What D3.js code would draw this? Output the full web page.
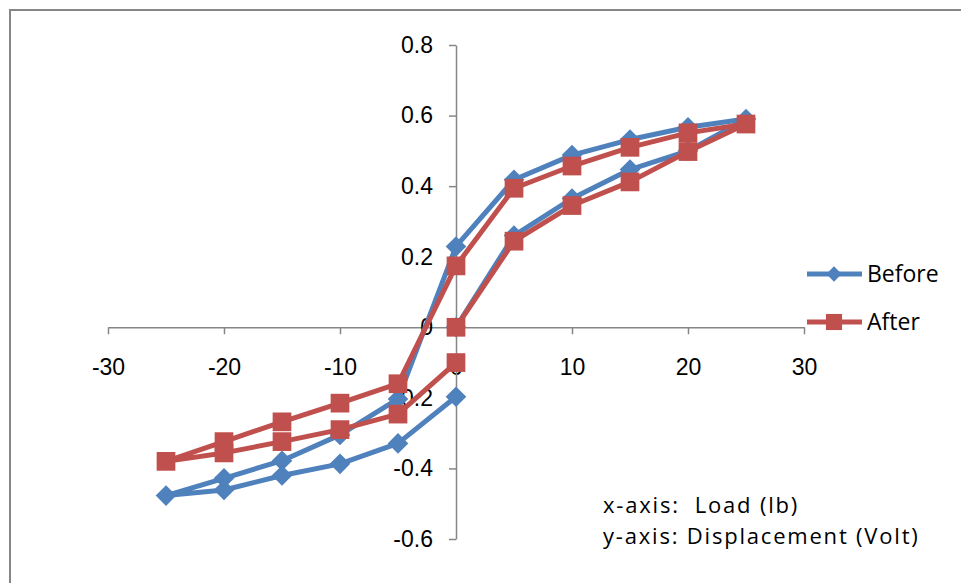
<!DOCTYPE html>
<meta charset="utf-8">
<style>
html, body {
  margin: 0;
  background: #fff;
}

.chart {
  display: block;
  font-family: Lato, "Open Sans", sans-serif;
}

.chart .axis path,
.chart .axis line {
  fill: none;
  stroke: #868686;
  stroke-width: 1.5;
}

.chart .axis text {
  fill: #000;
  font-size: 23px;
}

.chart .series .line {
  fill: none;
  stroke-width: 5;
  stroke-linejoin: round;
}

.chart .label {
  font-family: "Open Sans", sans-serif;
  font-size: 23px;
  fill: #000;
  white-space: pre;
}

.chart .note {
  font-size: 22px;
  letter-spacing: 1.8px;
}
</style>
<body>
<svg class="chart js-chart" width="961" height="583"></svg>

<script src="https://d3js.org/d3.v7.min.js"></script>
<script type="text/javascript">
"use strict";

// load (lb), in the order the points were recorded
var beforeLoad = [0, 5, 10, 15, 20, 25, 20, 15, 10, 5, 0, -5, -10, -15, -20, -25, -20, -15, -10, -5, 0];
var beforeDisp = [0, 0.26, 0.365, 0.447, 0.5, 0.59, 0.567, 0.532, 0.488, 0.418, 0.229,
                  -0.203, -0.305, -0.378, -0.428, -0.477, -0.461, -0.42, -0.387, -0.329, -0.197];

var afterLoad = [0, 5, 10, 15, 20, 25, 20, 15, 10, 5, 0, -5, -10, -15, -20, -25, -20, -15, -10, -5, 0];
var afterDisp = [0, 0.244, 0.345, 0.412, 0.498, 0.576, 0.551, 0.51, 0.457, 0.394, 0.174,
                 -0.16, -0.215, -0.268, -0.324, -0.38, -0.356, -0.324, -0.29, -0.246, -0.1];

var xTicks = [-30, -20, -10, 0, 10, 20, 30];
var yTicks = [-0.6, -0.4, -0.2, 0, 0.2, 0.4, 0.6, 0.8];

var seriesNames = ["Before", "After"];
var notes = ["x-axis:  Load (lb)", "y-axis: Displacement (Volt)"];

var colors = { Before: "#4f81bd", After: "#c0504d" };

var svg = d3.select(".js-chart");

// chart frame (cut off on the right and bottom)
svg.append("rect")
  .attr("x", 10)
  .attr("y", 10)
  .attr("width", 1200)
  .attr("height", 1200)
  .attr("fill", "#fff")
  .attr("stroke", "#868686")
  .attr("stroke-width", 2);

var x = d3.scaleLinear().domain([-30, 30]).range([108, 804]);
var y = d3.scaleLinear().domain([-0.6, 0.8]).range([539, 45]);

var fmt = function (d) {
  return Math.abs(d) < 1e-9 ? "0" : d.toFixed(1);
};

svg.append("g")
  .attr("class", "axis axis--x")
  .attr("transform", "translate(0," + y(0) + ")")
  .call(d3.axisBottom(x).tickValues(xTicks).tickFormat(String)
    .tickSize(7).tickSizeOuter(0).tickPadding(24));

svg.append("g")
  .attr("class", "axis axis--y")
  .attr("transform", "translate(" + x(0) + ",0)")
  .call(d3.axisLeft(y).tickValues(yTicks).tickFormat(fmt)
    .tickSize(7).tickSizeOuter(0).tickPadding(16));

var data = [
  { name: "Before", points: d3.zip(beforeLoad, beforeDisp) },
  { name: "After", points: d3.zip(afterLoad, afterDisp) }
];

var line = d3.line()
  .x(function (d) { return x(d[0]); })
  .y(function (d) { return y(d[1]); });

var diamond = d3.symbol().type(d3.symbolDiamond2).size(270);
var square = d3.symbol().type(d3.symbolSquare).size(350);

function marker(name) {
  return name === "Before" ? diamond() : square();
}

var series = svg.selectAll(".series").data(data)
  .enter().append("g")
    .attr("class", "series");

series.append("path")
  .attr("class", "line")
  .attr("d", function (d) { return line(d.points); })
  .attr("stroke", function (d) { return colors[d.name]; });

series.each(function (s) {
  d3.select(this).selectAll(".point").data(s.points)
    .enter().append("path")
      .attr("class", "point")
      .attr("d", marker(s.name))
      .attr("fill", colors[s.name])
      .attr("transform", function (d) { return "translate(" + x(d[0]) + "," + y(d[1]) + ")"; });
});

// legend
var legend = svg.selectAll(".legend").data(seriesNames)
  .enter().append("g")
    .attr("class", "legend")
    .attr("transform", function (d, i) { return "translate(807," + (274 + i * 48) + ")"; });

legend.append("line")
  .attr("x1", 0)
  .attr("x2", 55)
  .attr("stroke", function (d) { return colors[d]; })
  .attr("stroke-width", 5);

legend.append("path")
  .attr("transform", "translate(27,0)")
  .attr("d", function (d) {
    return d === "Before" ? d3.symbol().type(d3.symbolDiamond2).size(150)() : d3.symbol().type(d3.symbolSquare).size(260)();
  })
  .attr("fill", function (d) { return colors[d]; });

legend.append("text")
  .attr("class", "label")
  .attr("x", 60)
  .attr("dy", "0.36em")
  .text(String);

svg.selectAll(".note").data(notes)
  .enter().append("text")
    .attr("class", "label note")
    .attr("x", 603)
    .attr("y", function (d, i) { return 513 + i * 31; })
    .text(String);
</script>
</body>
